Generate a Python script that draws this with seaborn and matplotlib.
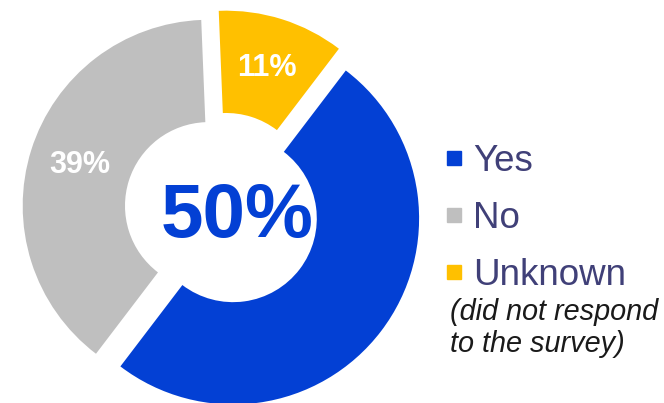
import seaborn as sns
import matplotlib.pyplot as plt
from matplotlib.lines import Line2D

# survey answers, clockwise from the top
categories = ['Unknown', 'Yes', 'No']
shares = [11, 50, 39]
colors = ['#FFC000', '#0340D4', '#BFBFBF']
legend_order = ['Yes', 'No', 'Unknown']
note = '(did not respond\nto the survey)'

sns.set_theme(style='white')
plt.rcParams['font.family'] = ['Liberation Sans', 'DejaVu Sans']

fig = plt.figure(figsize=(6.64, 4.03), dpi=100)
ax = fig.add_axes([0, 0, 1, 1])

wedges, texts, autotexts = ax.pie(
	shares, colors=colors, startangle=92.3, counterclock=False,
	explode=[0.075, 0.075, 0.075], radius=1,
	wedgeprops=dict(width=0.55, edgecolor='none'),
	autopct='%.0f%%', pctdistance=0.725,
	textprops=dict(color='white', fontsize=22, fontweight='bold'))

# the Yes share goes in the hole instead of on the ring
yes_i = categories.index('Yes')
autotexts[yes_i].set_visible(False)
ax.text(0.08, -0.038, f'{shares[yes_i]}%', color=colors[yes_i], fontsize=55,
	fontweight='bold', ha='center', va='center')

ax.set_xlim(-222/186, (664-222)/186)
ax.set_ylim(-193/186, 210/186)
ax.set_aspect('auto')
ax.axis('off')

handles = [Line2D([], [], marker='s', linestyle='', markersize=10.5,
	color=colors[categories.index(c)]) for c in legend_order]
leg = fig.legend(handles, legend_order, loc='upper left',
	bbox_to_anchor=(446/664, 1-144/403), frameon=False, fontsize=26.5,
	handlelength=0.41, handletextpad=0.33, labelspacing=0.6,
	borderpad=0, borderaxespad=0)
for t in leg.get_texts():
	t.set_color('#404078')

fig.text(450/664, 1-352/403, note, fontsize=20.8, fontstyle='italic',
	color='#1a1a1a', ha='left', va='baseline', linespacing=1.2)

plt.savefig('out.png', dpi=100)
